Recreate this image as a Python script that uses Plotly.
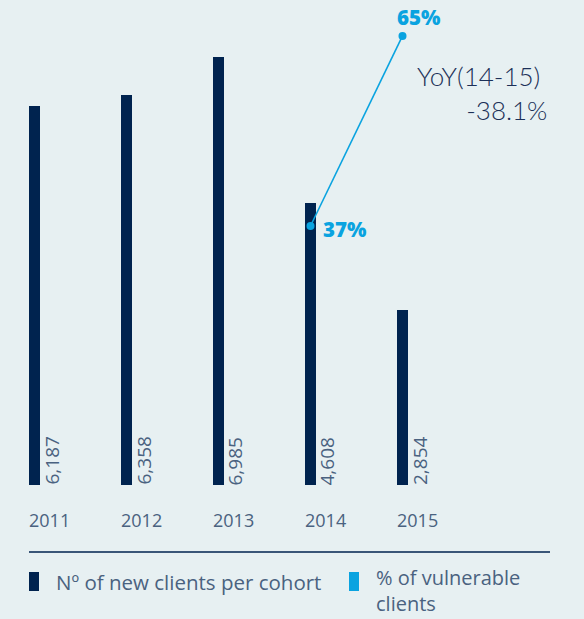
import plotly.graph_objects as go

years = ["2011", "2012", "2013", "2014", "2015"]
clients = [6187, 6358, 6985, 4608, 2854]
vuln_years = ["2014", "2015"]
vuln_pct = [37, 65]
yoy_text = "YoY(14-15)&nbsp;<br>-38.1%"
legend_labels = ["Nº of new clients per cohort", "% of vulnerable<br>clients"]

NAVY = "#00234f"
CYAN = "#0aa3e0"
GREY = "#4a6280"
BG = "#e7f0f2"
FONT = "Open Sans"

idx = {y: i for i, y in enumerate(years)}
xs = [idx[y] for y in years]
vx = [idx[y] for y in vuln_years]

fig = go.Figure()
fig.add_trace(go.Bar(x=xs, y=clients, width=0.12, marker=dict(color=NAVY, line=dict(width=0)),
                     showlegend=False, hoverinfo="skip"))
fig.add_trace(go.Scatter(x=vx, y=vuln_pct, yaxis="y2", mode="lines+markers",
                         line=dict(color=CYAN, width=1.6), marker=dict(color=CYAN, size=8),
                         showlegend=False, hoverinfo="skip", cliponaxis=False))

ann = []
for x, v in zip(xs, clients):
    ann.append(dict(x=x, y=0, xref="x", yref="y", text=f"{v:,}", textangle=-90,
                    showarrow=False, xanchor="center", yanchor="bottom", xshift=17, yshift=-2,
                    font=dict(family=FONT, size=19, color=GREY)))
for x, y in zip(xs, years):
    ann.append(dict(x=x - 0.06, y=0, xref="x", yref="paper", text=y, showarrow=False,
                    xanchor="left", yanchor="middle", yshift=-35, xshift=-2,
                    font=dict(family=FONT, size=18, color=GREY)))
# percent labels
ann.append(dict(x=vx[0], y=vuln_pct[0], xref="x", yref="y2", text=f"{vuln_pct[0]}%",
                showarrow=False, xanchor="left", yanchor="middle", xshift=11, yshift=-3,
                font=dict(family=FONT, size=20.5, color=CYAN, weight=800)))
ann.append(dict(x=vx[1], y=vuln_pct[1], xref="x", yref="y2", text=f"{vuln_pct[1]}%",
                showarrow=False, xanchor="left", yanchor="bottom", xshift=-7, yshift=3,
                font=dict(family=FONT, size=20.5, color=CYAN, weight=800)))
ann.append(dict(x=549 / 584, y=1 - 93 / 485, xref="paper", yref="paper", text=yoy_text,
                showarrow=False, xanchor="right", yanchor="middle", align="right",
                font=dict(family="Lato", size=26, color="#1c3058", weight=300)))
# legend
ann.append(dict(x=54 / 584, y=-(582 - 485) / 485, xref="paper", yref="paper", text=legend_labels[0],
                showarrow=False, xanchor="left", yanchor="middle", align="left",
                font=dict(family=FONT, size=20.5, color=GREY)))
ann.append(dict(x=375 / 584, y=-(563 - 485) / 485, xref="paper", yref="paper", text=legend_labels[1],
                showarrow=False, xanchor="left", yanchor="top", align="left", borderpad=0,
                font=dict(family=FONT, size=20, color=GREY)))

shapes = [
    dict(type="line", xref="paper", yref="paper", x0=29 / 584, x1=550 / 584,
         y0=-(552 - 485) / 485, y1=-(552 - 485) / 485, line=dict(color=NAVY, width=1.3)),
    dict(type="rect", xref="paper", yref="paper", x0=29 / 584, x1=39 / 584,
         y0=-(572 - 485) / 485, y1=-(591 - 485) / 485, fillcolor=NAVY, line=dict(width=0)),
    dict(type="rect", xref="paper", yref="paper", x0=349 / 584, x1=359 / 584,
         y0=-(572 - 485) / 485, y1=-(591 - 485) / 485, fillcolor=CYAN, line=dict(width=0)),
]

fig.update_layout(
    width=584, height=619,
    margin=dict(l=0, r=0, t=0, b=134),
    paper_bgcolor=BG, plot_bgcolor=BG,
    xaxis=dict(range=[-0.375, 5.973], visible=False, fixedrange=True),
    yaxis=dict(range=[0, 7912], visible=False),
    yaxis2=dict(range=[-1.17, 70.3], overlaying="y", visible=False),
    annotations=ann, shapes=shapes,
    bargap=0,
)
fig.write_html("out.html", config={"displayModeBar": False},
               post_script="document.body.style.margin='0';document.body.style.background='%s';" % BG)
